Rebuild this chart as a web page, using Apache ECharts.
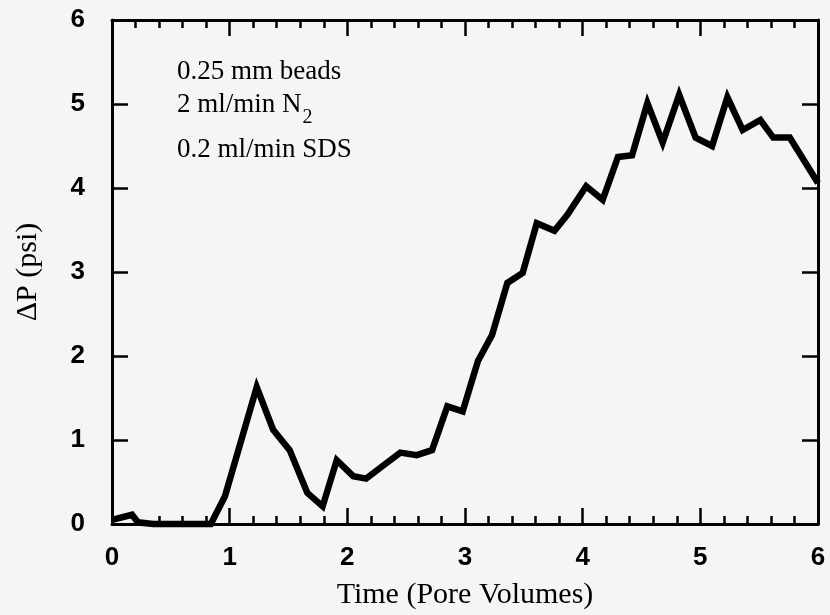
<!DOCTYPE html>
<html>
<head>
<meta charset="utf-8">
<script src="https://cdn.jsdelivr.net/npm/echarts@6/dist/echarts.min.js"></script>
<style>
  html, body { margin: 0; padding: 0; background: #f5f5f5; }
  #chart { width: 830px; height: 615px; }
</style>
</head>
<body>
<div id="chart"></div>
<script>
// Pressure drop across the bead pack versus injected pore volumes
const poreVolumes = [0, 0.17, 0.22, 0.35, 0.48, 0.6, 0.72, 0.84, 0.96, 1.23, 1.37, 1.51, 1.66, 1.79,
  1.91, 2.05, 2.16, 2.30, 2.45, 2.59, 2.72, 2.85, 2.98, 3.11, 3.23, 3.36, 3.49, 3.61, 3.76, 3.87,
  4.03, 4.17, 4.30, 4.42, 4.55, 4.68, 4.82, 4.96, 5.10, 5.23, 5.36, 5.51, 5.62, 5.76, 6.0];
const deltaP = [0.05, 0.11, 0.02, 0, 0, 0, 0, 0, 0.33, 1.63, 1.12, 0.88, 0.37, 0.21,
  0.76, 0.57, 0.54, 0.69, 0.85, 0.82, 0.88, 1.40, 1.34, 1.94, 2.25, 2.87, 2.99, 3.58, 3.49, 3.68,
  4.02, 3.86, 4.37, 4.39, 5.01, 4.54, 5.11, 4.60, 4.50, 5.08, 4.69, 4.81, 4.60, 4.60, 4.06];
const xTicks = ['0', '1', '2', '3', '4', '5', '6'];
const yTicks = ['0', '1', '2', '3', '4', '5', '6'];
const notes = ['0.25 mm beads', '2 ml/min N', '0.2 ml/min SDS'];

const sans = 'Liberation Sans, Arial, sans-serif';
const serif = 'Liberation Serif, Times New Roman, serif';

const lineStyle = { color: '#000', width: 3 };
const tickMajor = { show: true, inside: true, length: 16, lineStyle: { color: '#000', width: 2.5 } };
const tickMinor = { show: true, splitNumber: 5, length: 8, lineStyle: { color: '#000', width: 2.5 } };

const chart = echarts.init(document.getElementById('chart'));
chart.setOption({
  backgroundColor: '#f5f5f5',
  animation: false,
  grid: { left: 112, right: 12, top: 20, bottom: 88, containLabel: false },
  xAxis: [
    {
      type: 'value', min: 0, max: 6, interval: 1, position: 'bottom',
      axisLine: { show: true, onZero: false, lineStyle },
      axisTick: tickMajor, minorTick: tickMinor,
      splitLine: { show: false }, minorSplitLine: { show: false },
      axisLabel: {
        show: true, margin: 21, color: '#000', fontFamily: sans, fontWeight: 'bold', fontSize: 26,
        formatter: v => xTicks[Math.round(v)]
      },
      name: 'Time (Pore Volumes)', nameLocation: 'middle', nameGap: 56,
      nameTextStyle: { color: '#000', fontFamily: serif, fontSize: 30 }
    },
    {
      type: 'value', min: 0, max: 6, interval: 1, position: 'top',
      axisLine: { show: true, onZero: false, lineStyle },
      axisTick: tickMajor, minorTick: tickMinor,
      splitLine: { show: false }, axisLabel: { show: false }
    }
  ],
  yAxis: [
    {
      type: 'value', min: 0, max: 6, interval: 1, position: 'left',
      axisLine: { show: true, onZero: false, lineStyle },
      axisTick: tickMajor,
      splitLine: { show: false },
      axisLabel: {
        show: true, margin: 27, color: '#000', fontFamily: sans, fontWeight: 'bold', fontSize: 26,
        formatter: v => yTicks[Math.round(v)]
      },
      name: 'ΔP (psi)', nameLocation: 'middle', nameGap: 69, nameRotate: 90,
      nameTextStyle: { color: '#000', fontFamily: serif, fontSize: 30 }
    },
    {
      type: 'value', min: 0, max: 6, interval: 1, position: 'right',
      axisLine: { show: true, onZero: false, lineStyle },
      axisTick: tickMajor,
      splitLine: { show: false }, axisLabel: { show: false }
    }
  ],
  series: [{
    type: 'line',
    xAxisIndex: 0, yAxisIndex: 0,
    data: poreVolumes.map((x, i) => [x, deltaP[i]]),
    showSymbol: false, symbol: 'none', clip: false,
    lineStyle: { color: '#000', width: 6.5, join: 'miter' }
  }],
  graphic: [
    { type: 'text', left: 177, top: 58, style: { text: notes[0], font: '27px ' + serif, fill: '#000' } },
    { type: 'text', left: 177, top: 91, style: {
        text: '{m|' + notes[1] + '}{s|2}',
        rich: {
          m: { font: '27px ' + serif, fill: '#000' },
          s: { font: '20px ' + serif, fill: '#000', padding: [27, 0, 0, 1] }
        }
      } },
    { type: 'text', left: 177, top: 136, style: { text: notes[2], font: '27px ' + serif, fill: '#000' } }
  ]
});
</script>
</body>
</html>
